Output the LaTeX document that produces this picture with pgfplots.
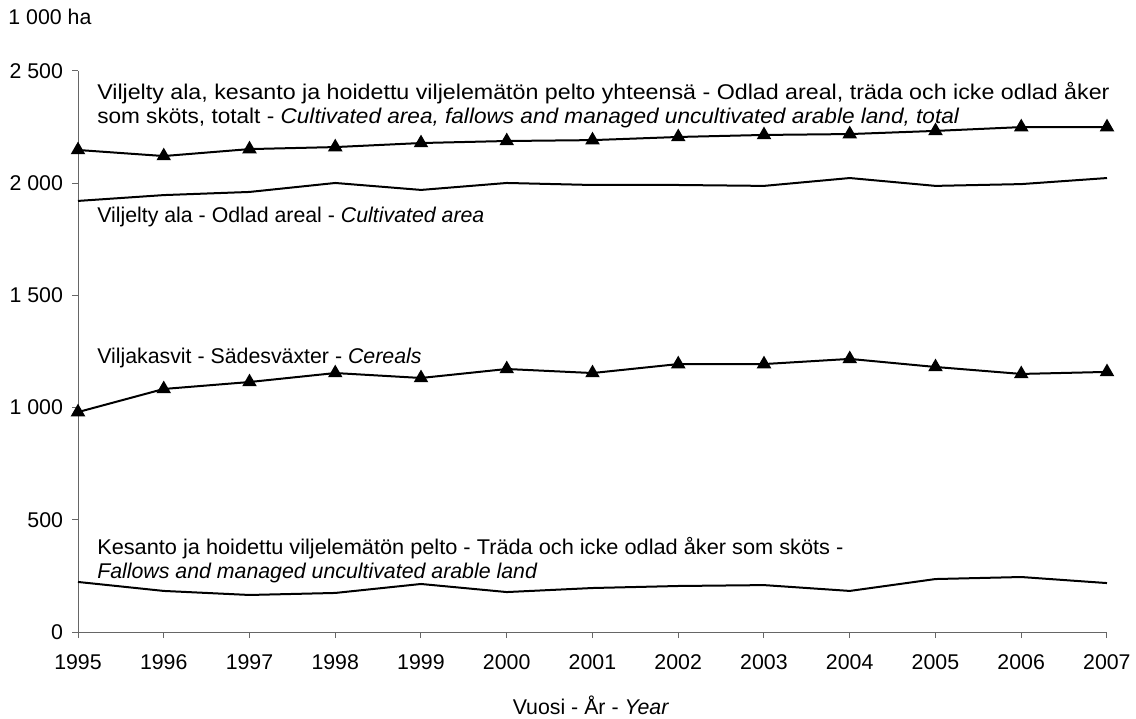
\documentclass[border=0pt]{standalone}
\usepackage{fontspec}
\setmainfont{Liberation Sans}
\usepackage{pgfplots}
\usepackage{graphicx}
\pgfplotsset{compat=1.18}

\newcommand{\lbl}{\fontsize{10.7}{12}\selectfont}

\begin{document}
\begin{tikzpicture}
\begin{axis}[
    scale only axis,
    width=514.5bp, height=280.5bp,
    at={(0,0)}, anchor=south west,
    xmin=1995, xmax=2007,
    ymin=0, ymax=2500,
    axis x line*=bottom, axis y line*=left,
    axis line style={gray!80!black, line width=0.5bp, -},
    xtick={1995,...,2007},
    ytick={0,500,...,2500},
    tick align=outside,
    major tick length=3bp,
    every tick/.style={gray!80!black, line width=0.5bp},
    tick label style={font=\lbl},
    /pgf/number format/assume math mode=true,
    xticklabel style={/pgf/number format/1000 sep=, yshift=-5bp},
    yticklabel style={/pgf/number format/1000 sep={\ }, xshift=-1bp},
    xlabel={Vuosi - År - \textit{Year}},
    xlabel style={font=\lbl, at={(axis description cs:0.4985,0)}, anchor=center, yshift=-36.5bp},
    clip=false,
]
% Viljelty ala, kesanto ja hoidettu viljelematon pelto yhteensa
\addplot[black, line width=1bp, mark=triangle*, mark size=3.2bp] coordinates {
 (1995,2148) (1996,2121) (1997,2152) (1998,2161) (1999,2179) (2000,2188)
 (2001,2192) (2002,2206) (2003,2215) (2004,2219) (2005,2233) (2006,2250) (2007,2250)};
% Viljelty ala
\addplot[black, line width=1bp, mark=none] coordinates {
 (1995,1921) (1996,1947) (1997,1961) (1998,2001) (1999,1970) (2000,2001)
 (2001,1992) (2002,1992) (2003,1988) (2004,2023) (2005,1988) (2006,1996) (2007,2023)};
% Viljakasvit
\addplot[black, line width=1bp, mark=triangle*, mark size=3.2bp] coordinates {
 (1995,980) (1996,1083) (1997,1114) (1998,1154) (1999,1132) (2000,1172)
 (2001,1154) (2002,1194) (2003,1194) (2004,1217) (2005,1181) (2006,1150) (2007,1159)};
% Kesanto
\addplot[black, line width=1bp, mark=none] coordinates {
 (1995,223) (1996,183) (1997,165) (1998,174) (1999,214) (2000,178)
 (2001,196) (2002,205) (2003,209) (2004,183) (2005,236) (2006,245) (2007,218)};

\node[anchor=west, align=left, font=\lbl, inner sep=0pt] at (axis cs:1995.22,2346)
 {\scalebox{1.09}[1]{Viljelty ala, kesanto ja hoidettu viljelemätön pelto yhteensä - Odlad areal, träda och icke odlad åker}\\
  \scalebox{1.06}[1]{som sköts, totalt - \textit{Cultivated area, fallows and managed uncultivated arable land, total}}};
\node[anchor=west, font=\lbl, inner sep=0pt] at (axis cs:1995.22,1848) {Viljelty ala - Odlad areal - \textit{Cultivated area}};
\node[anchor=west, font=\lbl, inner sep=0pt] at (axis cs:1995.22,1221) {Viljakasvit - Sädesväxter - \textit{Cereals}};
\node[anchor=west, align=left, font=\lbl, inner sep=0pt] at (axis cs:1995.22,321)
 {\scalebox{1.02}[1]{Kesanto ja hoidettu viljelemätön pelto - Träda och icke odlad åker som sköts -}\\
  \textit{Fallows and managed uncultivated arable land}};
\node[anchor=west, font=\lbl, inner sep=0pt] at (axis description cs:-0.068,1.096) {1 000 ha};
\end{axis}
\pgfresetboundingbox
\path (-39bp,-43.5bp) rectangle (529bp,316bp);
\end{tikzpicture}
\end{document}
